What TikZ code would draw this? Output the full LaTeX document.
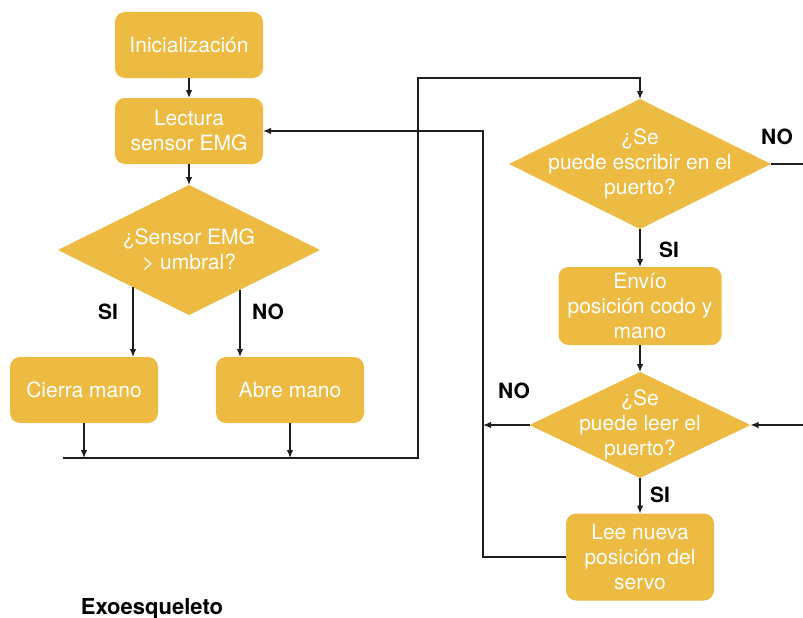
\documentclass[tikz,border=0pt]{standalone}
\usepackage{fontspec}
\setmainfont{TeX Gyre Heros}
\usetikzlibrary{shapes.geometric,arrows.meta}
\definecolor{oro}{RGB}{237,186,66}
\definecolor{trazo}{RGB}{30,30,30}

\begin{document}
\begin{tikzpicture}[x=1pt,y=-1pt,
    caja/.style={rectangle, rounded corners=10pt, fill=oro, text=white, align=center,
        minimum width=148pt, minimum height=66pt, inner sep=0pt, outer sep=0pt,
        font=\fontsize{21}{25}\selectfont},
    decision/.style={diamond, fill=oro, minimum width=262pt, minimum height=130pt,
        inner sep=0pt, outer sep=0pt},
    texto/.style={text=white, align=center, font=\fontsize{21}{25}\selectfont},
    etiqueta/.style={font=\bfseries\fontsize{21}{24}\selectfont},
    linea/.style={line width=1.3pt, draw=trazo},
    flecha/.style={linea, -{Latex[length=8pt,width=6.5pt]}}]

    \useasboundingbox[fill=white] (0,0) rectangle (803,618);

    %left column: reading the EMG sensor
    \node[caja] (ini) at (189,45) {Inicialización};
    \node[caja] (lect) at (189,131) {Lectura\\sensor EMG};
    \node[decision] (q1) at (189,250) {};
    \node[texto] (q1t) at (q1) {¿Sensor EMG\\> umbral?};
    \node[caja] (cierra) at (84,390) {Cierra mano};
    \node[caja] (abre) at (290,390) {Abre mano};

    %right column: serial port
    \node[decision] (q2) at (640,164) {};
    \node[texto] (q2t) at (q2) {¿Se\\puede escribir en el\\puerto?};
    \node[caja, minimum width=163pt, minimum height=78pt] (envio) at (640,306) {Envío\\posición codo y\\mano};
    \node[decision, minimum width=221pt, minimum height=106pt] (q3) at (640,425) {};
    \node[texto] (q3t) at (q3) {¿Se\\puede leer el\\puerto?};
    \node[caja, minimum height=87pt] (lee) at (640,557) {Lee nueva\\posición del\\servo};

    %points where the lines turn
    \coordinate (siA) at (133,287);
    \coordinate (noA) at (240,290);
    \coordinate (jI) at (63,458);
    \coordinate (jD) at (418,458);
    \coordinate (arriba) at (418,78);
    \coordinate (bordeA) at (803,164);
    \coordinate (bordeB) at (803,425);
    \coordinate (retorno) at (483,425);

    %arrows on the left
    \draw[flecha] (ini) -- (lect);
    \draw[flecha] (lect) -- (q1);
    \draw[flecha] (siA) -- (siA |- cierra.north);
    \draw[flecha] (noA) -- (noA |- abre.north);
    \draw[flecha] (cierra.south) -- (cierra.south |- jI);
    \draw[flecha] (abre.south) -- (abre.south |- jI);
    \draw[flecha] (jI) -- (jD) -- (arriba) -- (arriba -| q2.north) -- (q2.north);

    %arrows on the right
    \draw[linea] (q2.east) -- (bordeA);
    \draw[flecha] (q2) -- (envio);
    \draw[flecha] (envio) -- (q3);
    \draw[flecha] (bordeB) -- (q3.east);
    \draw[flecha] (q3.west) -- (retorno);
    \draw[flecha] (q3) -- (lee);
    \draw[flecha] (lee.west) -- (lee.west -| retorno) -- (retorno |- lect.east) -- (lect.east);

    %draw labels
    \node[etiqueta] (si1) at (108,312) {SI};
    \node[etiqueta] (no1) at (268,312) {NO};
    \node[etiqueta] (no2) at (777,137) {NO};
    \node[etiqueta] (si2) at (669,250) {SI};
    \node[etiqueta] (no3) at (514,391) {NO};
    \node[etiqueta] (si3) at (660,495) {SI};
    \node[font=\bfseries\fontsize{22}{26}\selectfont, anchor=base] (titulo) at (152,614) {Exoesqueleto};

\end{tikzpicture}
\end{document}
